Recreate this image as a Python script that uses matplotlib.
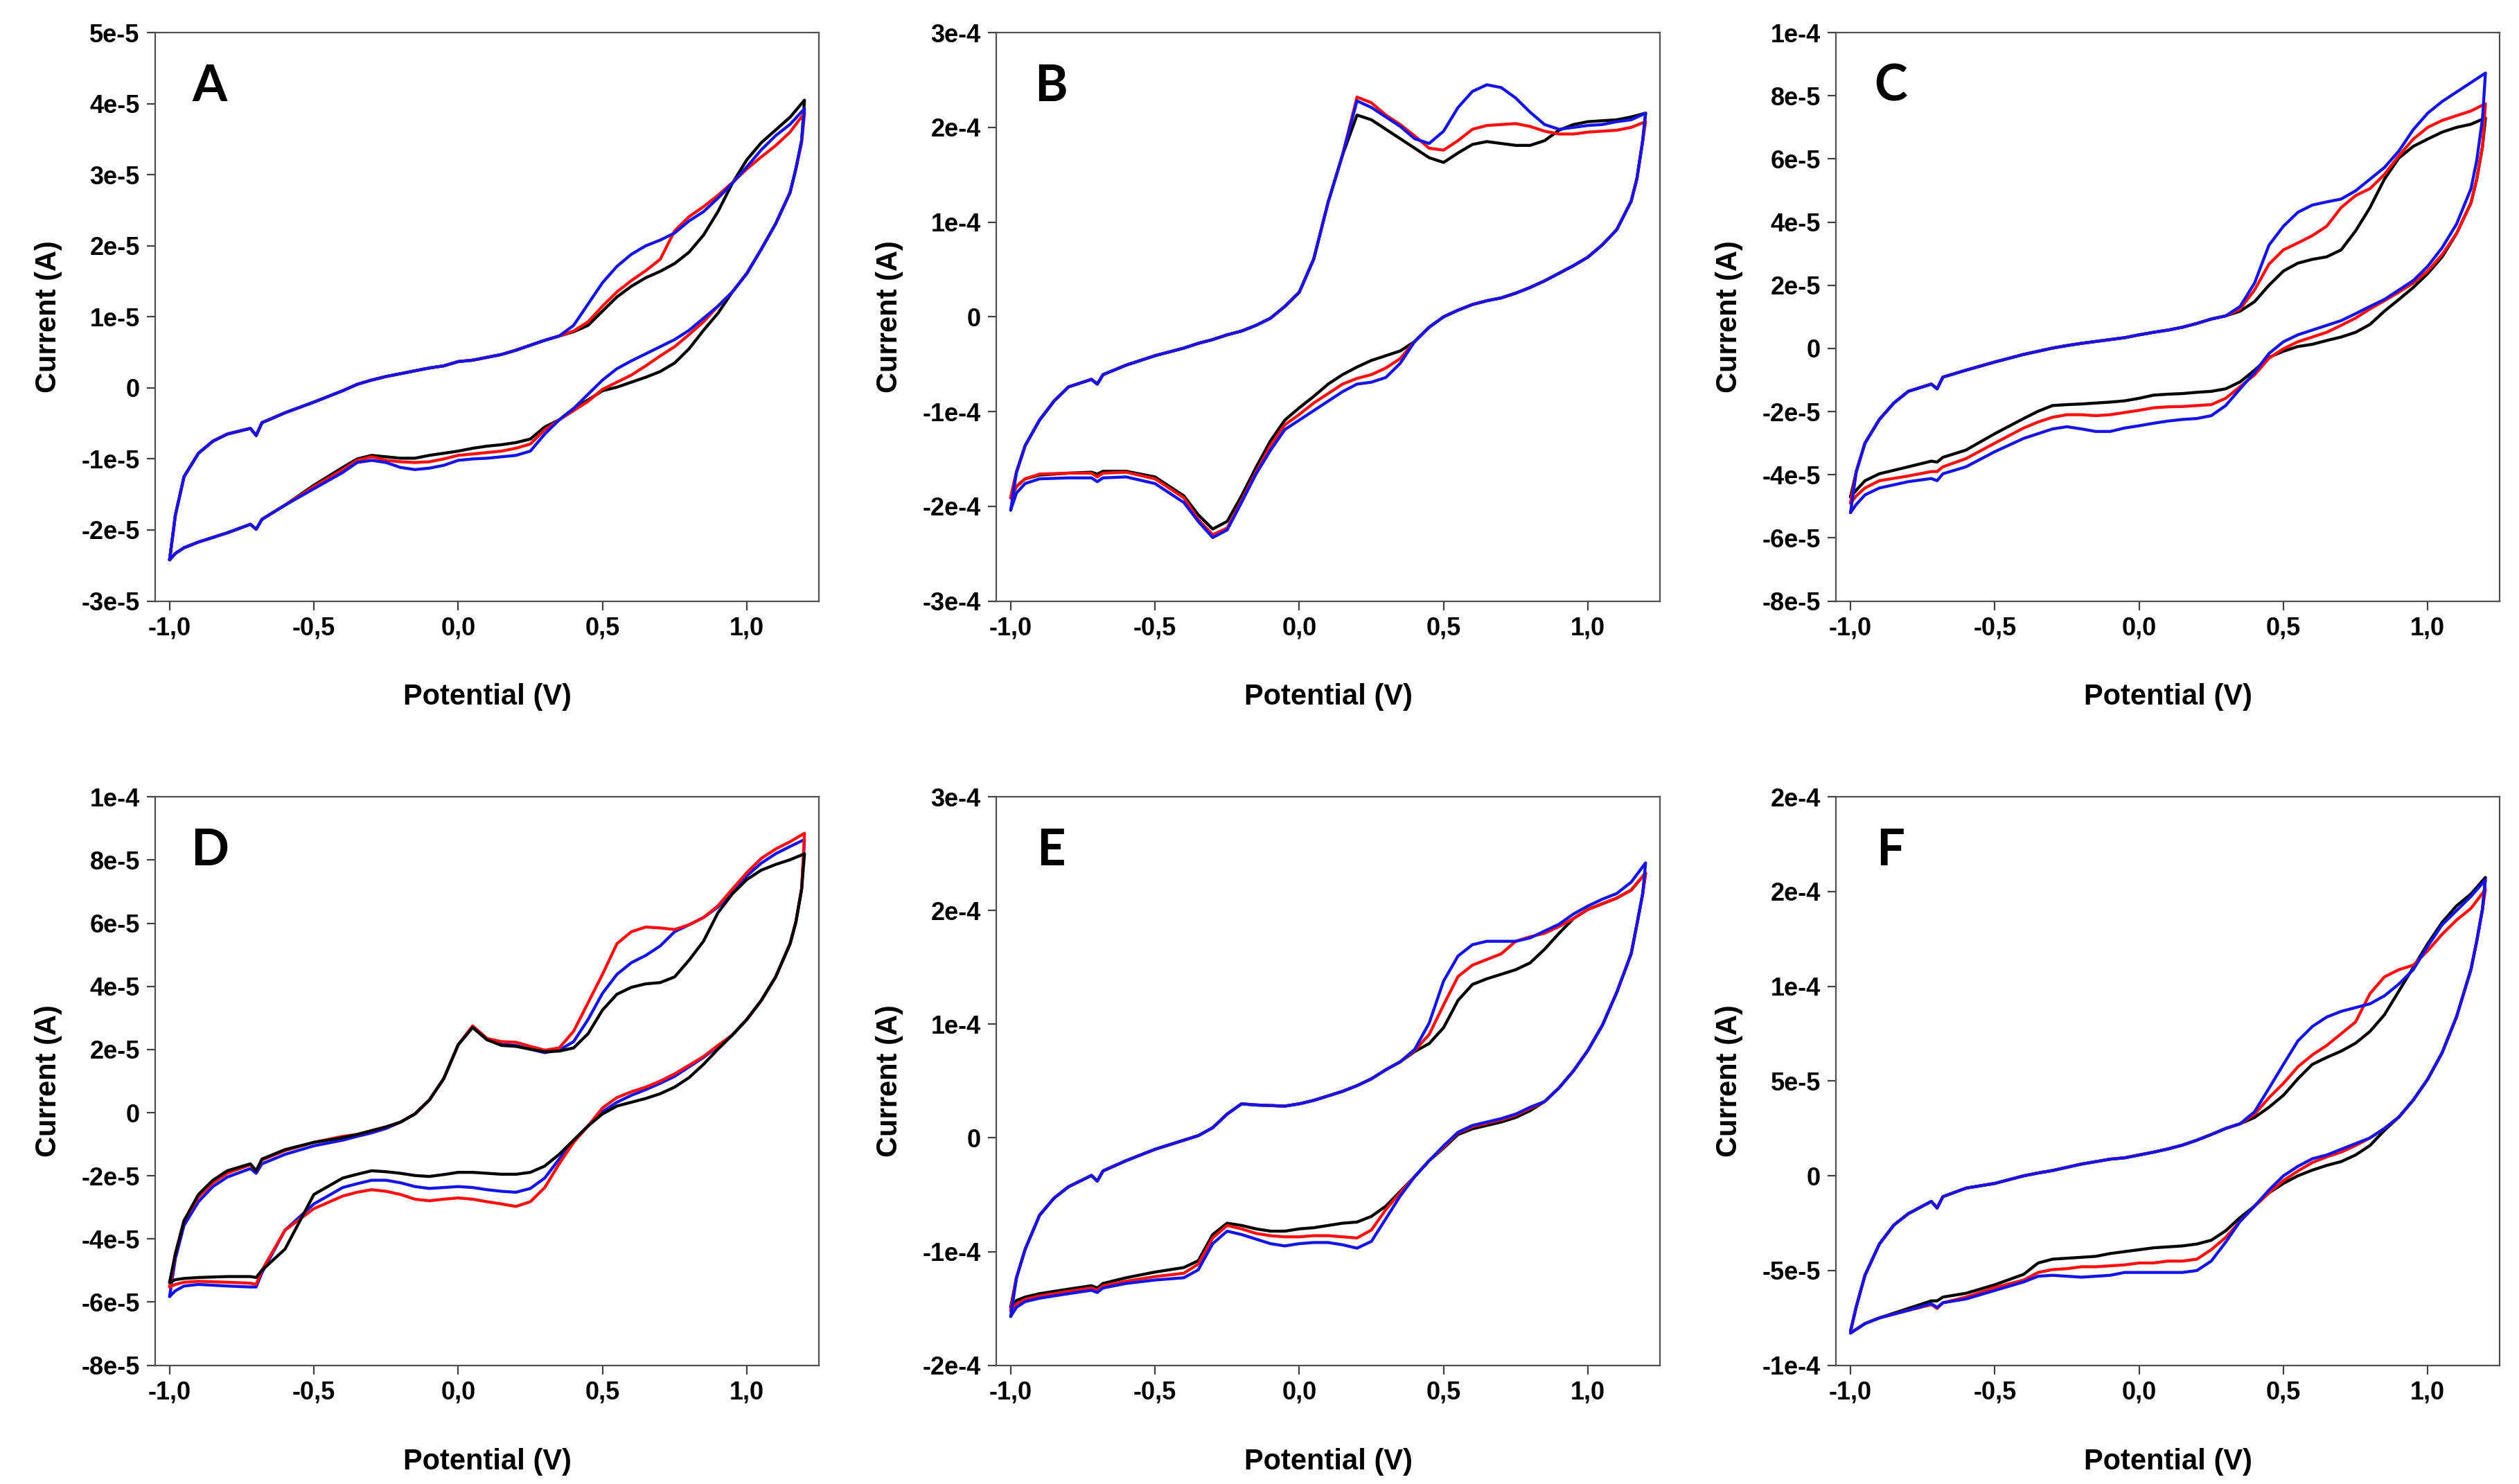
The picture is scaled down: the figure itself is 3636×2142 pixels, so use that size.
import numpy as np
import matplotlib
matplotlib.use("Agg")
import matplotlib.pyplot as plt

# ---------------- potential grids (V) ----------------
V_FWD = [-1.0, -0.98, -0.95, -0.9, -0.85, -0.8, -0.72, -0.7, -0.68, -0.6, -0.5, -0.4, -0.35, -0.3,
         -0.25, -0.2, -0.15, -0.1, -0.05, 0.0, 0.05, 0.1, 0.15, 0.2, 0.25, 0.3, 0.35, 0.4, 0.45,
         0.5, 0.55, 0.6, 0.65, 0.7, 0.75, 0.8, 0.85, 0.9, 0.95, 1.0, 1.05, 1.1, 1.15, 1.2]
V_REV = [1.2, 1.19, 1.17, 1.15, 1.1, 1.05, 1.0, 0.95, 0.9, 0.85, 0.8, 0.75, 0.7, 0.65, 0.6, 0.55,
         0.5, 0.45, 0.4, 0.35, 0.3, 0.25, 0.2, 0.15, 0.1, 0.05, 0.0, -0.05, -0.1, -0.15, -0.2,
         -0.25, -0.3, -0.35, -0.4, -0.5, -0.6, -0.68, -0.7, -0.72, -0.8, -0.9, -0.95, -0.98, -1.0]

# ---------------- currents (microampere) ----------------
# Panel A
A_FWD_COMMON = [-24.2, -17.9, -12.5, -9.2, -7.5, -6.5, -5.7, -6.7, -4.9, -3.5, -2.0, -0.4, 0.5, 1.1,
                1.6, 2.0, 2.4, 2.8, 3.1, 3.7, 3.9, 4.3, 4.7, 5.3, 6.0, 6.7, 7.3]
A_FWD_BLACK = A_FWD_COMMON + [7.9, 8.8, 10.8, 12.8, 14.3, 15.5, 16.4, 17.5, 19.1, 21.5, 24.8, 28.8, 32.1, 34.5, 36.3, 38.1, 40.5]
A_FWD_RED = A_FWD_COMMON + [8.0, 9.3, 11.5, 13.5, 15.1, 16.5, 18.1, 22.1, 24.1, 25.5, 27.1, 28.9, 30.8, 32.5, 34.1, 36.0, 38.7]
A_FWD_BLUE = A_FWD_COMMON + [8.8, 11.8, 14.8, 17.1, 18.8, 20.0, 20.8, 21.8, 23.5, 24.8, 26.7, 28.8, 31.1, 33.5, 35.5, 37.1, 39.3]
A_REV_BLACK = [40.5, 34.8, 30.8, 27.5, 23.1, 19.5, 16.1, 13.5, 10.5, 8.1, 5.5, 3.5, 2.3, 1.5, 0.8, 0.1, -0.4,
               -1.7, -2.9, -4.5, -5.5, -7.2, -7.7, -8.0, -8.2, -8.5, -8.9, -9.2, -9.5, -9.9, -9.9, -9.7,
               -9.5, -10.0, -11.2, -13.7, -16.5, -18.5, -19.9, -19.2, -20.4, -21.7, -22.5, -23.3, -24.2]
A_REV_RED = [38.7, 34.5, 30.8, 27.5, 23.1, 19.5, 16.1, 13.5, 11.5, 9.3, 7.5, 5.8, 4.5, 3.1, 1.8, 0.8, -0.2,
             -1.9, -3.2, -4.5, -5.9, -7.9, -8.5, -8.9, -9.1, -9.3, -9.5, -10.0, -10.4, -10.5, -10.4, -10.2,
             -9.7, -10.2, -11.5, -13.9, -16.5, -18.5, -19.9, -19.2, -20.4, -21.7, -22.5, -23.3, -24.2]
A_REV_BLUE = [39.3, 34.8, 30.8, 27.5, 23.1, 19.5, 16.1, 13.5, 11.5, 9.8, 8.1, 6.8, 5.8, 4.8, 3.8, 2.7, 1.1,
              -0.9, -2.9, -4.5, -6.5, -8.9, -9.5, -9.7, -9.9, -10.0, -10.2, -10.9, -11.3, -11.5, -11.2, -10.5,
              -10.2, -10.5, -11.9, -14.2, -16.5, -18.5, -19.9, -19.2, -20.4, -21.7, -22.5, -23.3, -24.2]

# Panel B
B_FWD_COMMON = [-164, -136, -109, -89, -74, -66, -71, -61, -51, -41, -33, -28, -24, -19, -15, -9, -1.5,
                11, 26, 61, 121, 171]
B_FWD_BLACK = [-191] + B_FWD_COMMON + [213, 208, 198, 188, 178, 168, 163, 173, 182, 185, 183, 181, 181, 186, 197, 203, 206, 207, 208, 211, 215]
B_FWD_RED = [-191] + B_FWD_COMMON + [232, 226, 213, 203, 191, 178, 176, 186, 198, 202, 203, 204, 201, 196, 193, 193, 195, 196, 197, 200, 206]
B_FWD_BLUE = [-204] + B_FWD_COMMON + [228, 221, 211, 201, 188, 183, 196, 221, 238, 245, 242, 231, 216, 203, 198, 200, 202, 203, 206, 208, 215]
B_REV_COMMON = [186, 146, 122, 92, 76, 63, 54, 46, 38, 31, 25, 20, 17, 13, 7, 0, -11, -26]
B_REV_BLACK = [215] + B_REV_COMMON + [-36, -41, -46, -53, -61, -71, -84, -96, -109, -131, -159, -189, -216, -224,
                                      -209, -189, -169, -163, -163, -166, -164, -165, -167, -171, -179, -191]
B_REV_RED = [206] + B_REV_COMMON + [-44, -54, -61, -65, -71, -81, -91, -103, -114, -136, -164, -194, -223, -230,
                                    -214, -191, -171, -164, -165, -169, -165, -165, -166, -171, -179, -191]
B_REV_BLUE = [215] + B_REV_COMMON + [-49, -64, -69, -71, -79, -89, -99, -109, -119, -141, -166, -196, -225, -233,
                                     -216, -196, -176, -169, -170, -174, -170, -170, -171, -176, -186, -204]

# Panel C
C_FWD_COMMON = [-39, -30, -22.5, -17.3, -13.6, -11.3, -12.8, -9.1, -6.9, -4.3, -1.9, -0.9, 0.1, 0.9, 1.6,
                2.2, 2.8, 3.4, 4.3, 5.1, 5.8, 6.7, 7.9, 9.3, 10.3]
C_FWD_BLACK = [-47] + C_FWD_COMMON + [11.8, 14.8, 20.0, 24.5, 27.0, 28.2, 29.0, 31.2, 37.2, 44.6, 53.6, 60.3, 64.0, 66.3, 68.5, 70.0, 71.0, 73.0]
C_FWD_RED = [-49] + C_FWD_COMMON + [12.5, 18.5, 26.7, 31.2, 33.4, 35.7, 38.7, 44.6, 48.4, 50.6, 55.1, 61.0, 66.3, 70.0, 72.2, 73.7, 75.2, 77.5]
C_FWD_BLUE = [-52] + C_FWD_COMMON + [13.3, 20.7, 32.7, 38.7, 43.1, 45.4, 46.4, 47.3, 49.9, 53.6, 57.3, 62.5, 69.3, 74.5, 78.2, 81.2, 84.2, 87.2]
C_REV_BLACK = [73.0, 64, 53.6, 46.1, 36.4, 29.0, 23.7, 19.3, 15.5, 11.8, 7.6, 5.1, 3.6, 2.5, 1.3, 0.6, -0.9,
               -2.8, -6.9, -10.6, -12.8, -13.6, -13.9, -14.3, -14.5, -14.8, -15.8, -16.6, -17.0, -17.3, -17.6,
               -17.8, -18.1, -19.9, -22.2, -27.0, -32.2, -34.5, -36.0, -35.7, -37.5, -39.7, -41.9, -44.9, -47]
C_REV_RED = [77.5, 64, 53.6, 46.1, 36.4, 29.7, 24.5, 20.7, 17.8, 15.1, 12.5, 9.6, 7.3, 5.1, 3.6, 2.1, -0.1,
             -3.1, -8.4, -12.1, -15.8, -17.8, -18.1, -18.4, -18.5, -18.8, -19.6, -20.3, -21.0, -21.3, -21.0,
             -21.0, -21.8, -23.3, -25.2, -30.0, -34.9, -37.5, -39.0, -39.0, -40.4, -41.9, -44.2, -46.7, -49]
C_REV_BLUE = [87.2, 73, 59.6, 50.6, 39.4, 31.9, 26.0, 21.5, 18.5, 15.5, 13.3, 11.0, 8.8, 7.3, 5.8, 4.3, 2.1,
              -1.6, -7.6, -12.8, -18.1, -21.3, -22.2, -22.5, -23.0, -23.7, -24.5, -25.2, -26.3, -26.3, -25.5,
              -24.8, -25.5, -27.0, -28.5, -32.7, -37.5, -39.7, -41.9, -41.2, -42.2, -44.2, -46.4, -49.4, -52]

# Panel D
D_FWD_BLACK = [-53.7, -44.7, -34.2, -25.9, -21.4, -18.4, -16.2, -18.4, -14.7, -11.7, -9.4, -7.9, -6.9, -5.7,
               -4.5, -3.0, -0.4, 4.0, 10.8, 21.5, 27.0, 23.1, 21.3, 21.0, 20.1, 19.3, 19.5, 20.5, 25.0, 32.5,
               37.5, 39.7, 40.8, 41.2, 43.0, 48.3, 54.3, 63.3, 69.3, 73.8, 76.8, 78.6, 80.1, 82.0]
D_FWD_RED = [-55.2, -44.7, -34.2, -26.7, -22.2, -19.2, -16.5, -18.4, -15.0, -12.0, -9.4, -7.5, -6.9, -5.7,
             -4.5, -3.0, -0.4, 4.0, 10.8, 21.5, 27.5, 23.5, 22.5, 22.3, 21.0, 19.8, 20.5, 25.8, 34.8, 43.8,
             53.5, 57.3, 58.8, 58.5, 58.0, 59.5, 61.8, 65.5, 70.8, 76.0, 80.5, 83.5, 85.8, 88.5]
D_FWD_BLUE = [-58.2, -46.2, -35.7, -28.2, -23.4, -20.4, -17.7, -19.2, -16.2, -13.2, -10.5, -8.7, -7.5, -6.4,
              -5.0, -3.0, -0.4, 4.0, 10.8, 21.5, 27.0, 23.1, 21.6, 21.3, 20.1, 19.0, 19.8, 22.5, 29.5, 37.8,
              43.8, 47.5, 49.8, 52.8, 57.3, 59.5, 61.8, 65.1, 70.0, 75.0, 79.0, 82.0, 84.3, 86.5]
D_REV_BLACK = [82.0, 70.8, 60.3, 53.5, 43.0, 35.5, 29.5, 24.6, 20.1, 15.3, 11.1, 8.1, 6.0, 4.5, 3.3, 2.1, -0.4,
               -4.2, -8.7, -13.2, -16.9, -18.9, -19.5, -19.5, -19.2, -18.9, -18.9, -19.6, -20.2, -19.9, -19.2,
               -18.7, -18.4, -19.5, -20.7, -25.9, -43.2, -49.9, -52.2, -51.9, -51.9, -52.2, -52.5, -52.9, -53.7]
D_REV_RED = [88.5, 70.8, 60.3, 53.5, 43.0, 35.5, 29.5, 24.6, 21.3, 17.8, 15.0, 12.3, 10.0, 8.1, 6.6, 4.8, 1.5,
             -4.2, -9.4, -16.2, -23.7, -28.2, -29.7, -28.9, -28.2, -27.4, -27.0, -27.4, -27.9, -27.4, -25.9,
             -24.9, -24.4, -25.2, -26.4, -30.4, -37.2, -49.9, -54.4, -54.0, -53.7, -53.4, -53.7, -54.4, -55.2]
D_REV_BLUE = [86.5, 70.8, 60.3, 53.5, 43.0, 35.5, 29.5, 24.6, 21.0, 17.5, 14.5, 11.5, 9.3, 7.3, 5.5, 3.3, 0.3,
              -4.2, -9.0, -14.7, -20.7, -24.0, -25.2, -24.9, -24.4, -23.7, -23.4, -23.7, -24.0, -23.4, -22.2,
              -21.4, -21.4, -22.5, -23.7, -28.9, -37.2, -50.7, -55.2, -55.2, -54.9, -54.4, -54.9, -56.4, -58.2]

# Panel E
E_FWD_COMMON = [-123, -98, -68, -53, -43, -33, -38, -29, -20, -10, -2, 2, 9, 21, 30, 29, 28.5, 28, 30, 33,
                37, 41, 46, 52, 60, 67]
E_FWD_BLACK = [-149] + E_FWD_COMMON + [76, 83, 97, 121, 135, 140, 144, 148, 154, 166, 180, 193, 201, 206, 211, 218, 233]
E_FWD_RED = [-152] + E_FWD_COMMON + [77, 91, 117, 142, 152, 157, 162, 173, 177, 180, 186, 193, 201, 206, 211, 218, 233]
E_FWD_BLUE = [-157] + E_FWD_COMMON + [78, 101, 138, 160, 170, 173, 173, 173, 176, 182, 188, 197, 204, 210, 215, 225, 242]
E_REV_COMMON = [215, 188, 162, 128, 99, 77, 59, 44, 32]
E_REV_BLACK = [233] + E_REV_COMMON + [24, 18, 14, 11, 8, 3, -9, -20, -34, -47, -60, -69, -74, -75, -77, -79,
                                      -80, -82, -82, -80, -77, -75, -85, -108, -114, -118, -123, -128, -132,
                                      -130, -133, -137, -140, -143, -149]
E_REV_RED = [233] + E_REV_COMMON + [26, 20, 16, 13, 10, 4.5, -8, -20, -34, -48, -63, -81, -88, -87, -86, -86,
                                    -87, -87, -86, -84, -80, -77, -88, -111, -119, -122, -126, -130, -134,
                                    -132, -135, -139, -142, -146, -152]
E_REV_BLUE = [242] + E_REV_COMMON + [27, 21, 17, 14, 11, 5, -7, -20, -34, -51, -71, -91, -97, -94, -92, -92,
                                     -93, -95, -93, -89, -85, -82, -93, -116, -123, -125, -128, -132, -136,
                                     -134, -137, -141, -144, -149, -157]

# Panel F
F_FWD_COMMON = [-82, -69, -52.5, -36, -26, -20, -13.5, -17, -11, -6.5, -4, 0, 1.5, 2.8, 4.5, 6.2, 7.5,
                8.8, 9.5, 11.0, 12.5, 14.2, 16.2, 18.8, 21.8, 25, 27.5]
F_FWD_BLACK = F_FWD_COMMON + [30.8, 36.2, 42.5, 51.2, 58.8, 62.5, 65.8, 70.0, 76.2, 85.0, 97.5, 110.0, 122.5, 133.8, 142.5, 148.8, 157.5]
F_FWD_RED = F_FWD_COMMON + [32.5, 41.2, 48.8, 57.5, 63.8, 68.8, 75.0, 81.2, 96.2, 105.0, 108.8, 111.2, 118.8, 127.5, 135.0, 141.2, 151.2]
F_FWD_BLUE = F_FWD_COMMON + [33.8, 46.2, 58.8, 71.2, 78.8, 83.8, 86.8, 88.8, 90.8, 95.0, 101.2, 108.8, 121.2, 132.5, 140.0, 147.5, 156.2]
F_REV_COMMON = [141, 124, 109, 84, 65, 51, 40, 31]
F_REV_BLACK = [157.5] + F_REV_COMMON + [24, 16, 11, 7.5, 5.5, 3, 0, -4, -9, -16, -22, -29, -34, -36, -37, -37.5,
                                        -38, -39, -40, -41, -42.5, -43, -43.5, -44, -46, -52, -57.5, -62, -64,
                                        -66, -66, -70, -75, -78, -81, -83]
F_REV_RED = [151.2] + F_REV_COMMON + [25, 20, 16, 12.5, 10, 7, 2.5, -2.5, -9, -16, -24, -32.5, -39, -44, -45,
                                      -45, -46, -46, -47, -47.5, -48, -48, -49, -49.5, -51, -55, -59, -64, -67,
                                      -70, -68, -71, -75, -78, -81, -83]
F_REV_BLUE = [156.2] + F_REV_COMMON + [25, 20, 17, 14, 11, 9, 5, 0, -7.5, -16, -24, -35, -45, -50, -51, -51,
                                       -51, -51, -51, -52.5, -53, -53.5, -53, -52.5, -53, -56, -60.5, -65, -67,
                                       -69.5, -67.5, -71, -75, -78, -81, -83]

# ---------------- axis ticks ----------------
X_TICKS = [-1.0, -0.5, 0.0, 0.5, 1.0]
X_TICK_LABELS = ["-1,0", "-0,5", "0,0", "0,5", "1,0"]

A_YTICKS = [-30, -20, -10, 0, 10, 20, 30, 40, 50]
A_YLABELS = ["-3e-5", "-2e-5", "-1e-5", "0", "1e-5", "2e-5", "3e-5", "4e-5", "5e-5"]
B_YTICKS = [-300, -200, -100, 0, 100, 200, 300]
B_YLABELS = ["-3e-4", "-2e-4", "-1e-4", "0", "1e-4", "2e-4", "3e-4"]
C_YTICKS = [-80, -60, -40, -20, 0, 20, 40, 60, 80, 100]
C_YLABELS = ["-8e-5", "-6e-5", "-4e-5", "-2e-5", "0", "2e-5", "4e-5", "6e-5", "8e-5", "1e-4"]
D_YTICKS = C_YTICKS
D_YLABELS = C_YLABELS
E_YTICKS = [-200, -100, 0, 100, 200, 300]
E_YLABELS = ["-2e-4", "-1e-4", "0", "1e-4", "2e-4", "3e-4"]
F_YTICKS = [-100, -50, 0, 50, 100, 150, 200]
F_YLABELS = ["-1e-4", "-5e-5", "0", "5e-5", "1e-4", "2e-4", "2e-4"]

PANELS = [
    ("A", (A_FWD_BLACK, A_REV_BLACK), (A_FWD_RED, A_REV_RED), (A_FWD_BLUE, A_REV_BLUE), A_YTICKS, A_YLABELS, ["k", "r", "b"]),
    ("B", (B_FWD_BLACK, B_REV_BLACK), (B_FWD_RED, B_REV_RED), (B_FWD_BLUE, B_REV_BLUE), B_YTICKS, B_YLABELS, ["k", "r", "b"]),
    ("C", (C_FWD_BLACK, C_REV_BLACK), (C_FWD_RED, C_REV_RED), (C_FWD_BLUE, C_REV_BLUE), C_YTICKS, C_YLABELS, ["k", "r", "b"]),
    ("D", (D_FWD_BLACK, D_REV_BLACK), (D_FWD_RED, D_REV_RED), (D_FWD_BLUE, D_REV_BLUE), D_YTICKS, D_YLABELS, ["b", "r", "k"]),
    ("E", (E_FWD_BLACK, E_REV_BLACK), (E_FWD_RED, E_REV_RED), (E_FWD_BLUE, E_REV_BLUE), E_YTICKS, E_YLABELS, ["k", "r", "b"]),
    ("F", (F_FWD_BLACK, F_REV_BLACK), (F_FWD_RED, F_REV_RED), (F_FWD_BLUE, F_REV_BLUE), F_YTICKS, F_YLABELS, ["k", "r", "b"]),
]

COLORS = {"k": "#000000", "r": "#ff1010", "b": "#1414e6"}
TICK_FONT = ["Liberation Sans Narrow", "Liberation Sans", "DejaVu Sans"]
LETTER_FONT = ["Lato", "Open Sans", "DejaVu Sans"]

fig = plt.figure(figsize=(36.36, 21.42), dpi=100)
fig.patch.set_facecolor("white")

COL_LEFT = [0.0616, 0.3955, 0.7289]
ROW_BOTTOM = [0.595, 0.080]
AX_W, AX_H = 0.2635, 0.383

for i, (letter, blk, red, blu, yt, yl, order) in enumerate(PANELS):
    r, c = divmod(i, 3)
    ax = fig.add_axes([COL_LEFT[c], ROW_BOTTOM[r], AX_W, AX_H])
    series = {"k": blk, "r": red, "b": blu}
    for key in order:
        fwd, rev = series[key]
        x = np.concatenate([V_FWD, V_REV])
        y = np.concatenate([fwd, rev])
        ax.plot(x, y, color=COLORS[key], lw=3.1, solid_joinstyle="round", solid_capstyle="round")
    ax.set_xlim(-1.05, 1.25)
    ax.set_ylim(yt[0], yt[-1])
    ax.set_xticks(X_TICKS)
    ax.set_xticklabels(X_TICK_LABELS)
    ax.set_yticks(yt)
    ax.set_yticklabels(yl)
    for lab in ax.get_xticklabels() + ax.get_yticklabels():
        lab.set_fontfamily(TICK_FONT)
        lab.set_fontweight("bold")
        lab.set_fontsize(26)
    ax.tick_params(axis="both", which="major", direction="out", length=9, width=1.6,
                   color="#404040", top=False, right=False, pad=7)
    for sp in ax.spines.values():
        sp.set_color("#505050")
        sp.set_linewidth(1.6)
    ax.set_xlabel("Potential (V)", fontfamily=TICK_FONT, fontweight="bold", fontsize=30)
    ax.set_ylabel("Current (A)", fontfamily=TICK_FONT, fontweight="bold", fontsize=30)
    ax.xaxis.set_label_coords(0.5, -0.145)
    ax.yaxis.set_label_coords(-0.14, 0.5)
    ax.text(0.082, 0.905, letter, transform=ax.transAxes, ha="center", va="center",
            fontfamily=LETTER_FONT, fontweight="bold", fontsize=52)

fig.savefig("out.png", dpi=100, facecolor="white")
